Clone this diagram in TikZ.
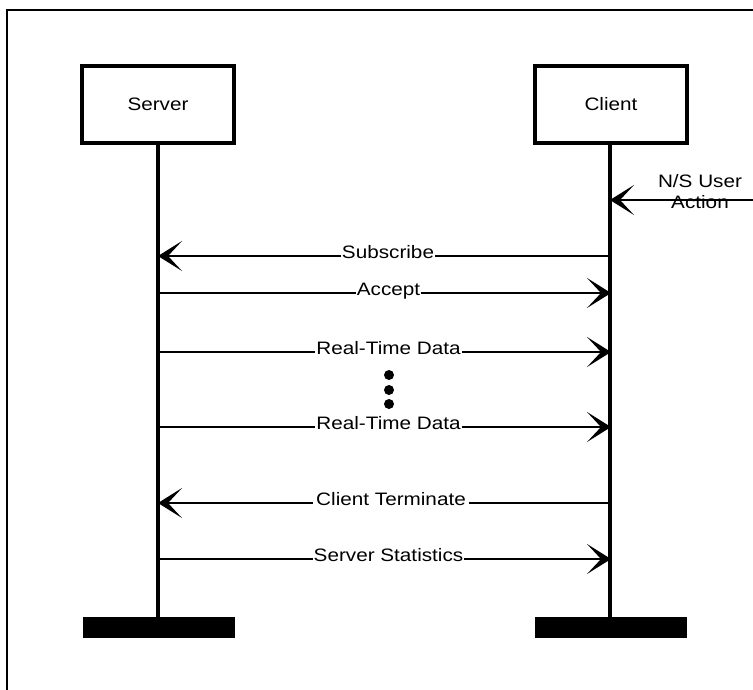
\documentclass[tikz,border=0pt]{standalone}
\usepackage{fontspec}
\setmainfont{Liberation Sans}[FakeStretch=1.15]
\usetikzlibrary{arrows.meta,positioning}
\tikzset{actor/.style={draw,line width=3.5pt,minimum width=152pt,minimum height=77pt,inner sep=0pt},
         endbar/.style={fill=black,minimum width=152pt,minimum height=21pt,inner sep=0pt},
         lifeline/.style={line width=4pt},
         msg/.style={line width=2.8pt,-{Stealth[length=24pt,width=30pt,inset=14pt,line width=3pt]}},
         lbl/.style={fill=white,inner xsep=1pt,inner ysep=0pt,anchor=base,yshift=-2pt},
         dot/.style={circle,fill=black,minimum size=10pt,inner sep=0pt}}
\begin{document}
\begin{tikzpicture}[x=1pt,y=-1pt,font=\fontsize{18}{21}\selectfont]
            \useasboundingbox (0,0) rectangle (753,689);
            \draw[line width=2.5pt] (7,700) -- (7,10) -- (760,10);
            % the two parties
            \node[actor] (server) at (158,104.5) {\raisebox{-4pt}{Server}};
            \node[actor] (client) at (611,104.5) {\raisebox{-1pt}{Client}};
            \node[endbar] (serverend) at (159,627.5) {};
            \node[endbar] (clientend) at (611,627.5) {};
            \draw[lifeline] (server.south) -- (server.south |- serverend.north);
            \draw[lifeline] (610,143) coordinate (ctop) -- (610,617) coordinate (cbot);
            % user action coming in from the right
            \node[align=center] (user) at (700,192) {N/S User\\Action};
            \coordinate (uin) at (760,200);
            \coordinate (uc) at (610,200);
            \draw[msg] (uin) -- (uc);
            % messages
            \coordinate (sub-s) at (158,256);  \coordinate (sub-c) at (610,256);
            \coordinate (acc-s) at (158,293);  \coordinate (acc-c) at (611,293);
            \coordinate (rt1-s) at (158,352);  \coordinate (rt1-c) at (611,352);
            \coordinate (rt2-s) at (158,427);  \coordinate (rt2-c) at (611,427);
            \coordinate (ter-s) at (158,503);  \coordinate (ter-c) at (610,503);
            \coordinate (sta-s) at (158,559);  \coordinate (sta-c) at (611,559);
            \draw[msg] (sub-c) -- node[lbl,xshift=4pt] {Subscribe} (sub-s);
            \draw[msg] (acc-s) -- node[lbl,xshift=4pt] {Accept} (acc-c);
            \draw[msg] (rt1-s) -- node[lbl,xshift=4pt] {Real-Time Data} (rt1-c);
            \draw[msg] (rt2-s) -- node[lbl,xshift=4pt] {Real-Time Data} (rt2-c);
            \draw[msg] (ter-c) -- node[lbl,xshift=7pt,inner xsep=3pt] {Client Terminate} (ter-s);
            \draw[msg] (sta-s) -- node[lbl,xshift=4pt] {Server Statistics} (sta-c);
            \foreach \i/\y in {1/375,2/390,3/404}
                \node[dot] (d\i) at (389,\y) {};
        \end{tikzpicture}
\end{document}
